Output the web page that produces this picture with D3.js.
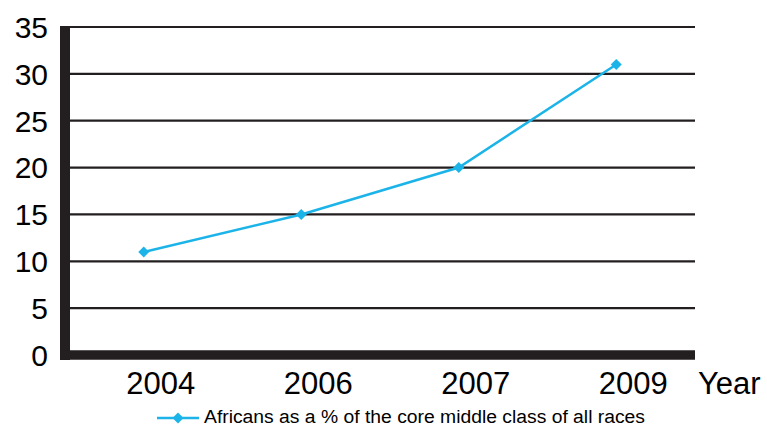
<!DOCTYPE html>
<html>
<head>
<meta charset="utf-8" />
<title>Africans as a % of the core middle class</title>
<script src="https://cdn.jsdelivr.net/npm/d3@7/dist/d3.min.js"></script>
<style>
body { margin: 0; background: #fff; }
text { font-family: "Liberation Sans", Arial, sans-serif; fill: #000; }
</style>
</head>
<body>
<svg id="chart" width="767" height="426"></svg>
<script>
// data
const years = ["2004", "2006", "2007", "2009"];
const share = [11, 15, 20, 31];
const yTicks = [0, 5, 10, 15, 20, 25, 30, 35];
const seriesName = "Africans as a % of the core middle class of all races";
const xTitle = "Year";

const plotLeft = 65, plotRight = 695, plotTop = 27, plotBottom = 355;
const lineColor = "#1cb4e8";

let svg = d3.select("#chart");

let x = d3.scalePoint()
	.domain(years)
	.range([plotLeft, plotRight])
	.padding(0.5);

let y = d3.scaleLinear()
	.domain([0, 35])
	.range([plotBottom, plotTop]);

// horizontal grid
svg.append("g")
	.selectAll("line")
	.data(yTicks.filter(d => d > 0))
	.enter()
	.append("line")
		.attr("x1", plotLeft)
		.attr("x2", plotRight)
		.attr("y1", d => y(d))
		.attr("y2", d => y(d))
		.attr("stroke", "#231f20")
		.attr("stroke-width", 2.2);

// thick axes
svg.append("line")
	.attr("x1", plotLeft).attr("x2", plotLeft)
	.attr("y1", plotTop - 1).attr("y2", plotBottom + 5)
	.attr("stroke", "#231f20")
	.attr("stroke-width", 10);
svg.append("line")
	.attr("x1", plotLeft - 5).attr("x2", plotRight)
	.attr("y1", plotBottom).attr("y2", plotBottom)
	.attr("stroke", "#231f20")
	.attr("stroke-width", 9.5);

// y labels
svg.append("g")
	.selectAll("text")
	.data(yTicks)
	.enter()
	.append("text")
		.attr("x", 48)
		.attr("y", d => y(d))
		.attr("dy", "0.36em")
		.attr("text-anchor", "end")
		.style("font-size", "30px")
		.text(d => d);

// x labels (sit a bit right of the points, as in the source)
svg.append("g")
	.selectAll("text")
	.data(years)
	.enter()
	.append("text")
		.attr("x", d => x(d) + 17)
		.attr("y", 394)
		.attr("text-anchor", "middle")
		.style("font-size", "31px")
		.text(d => d);

svg.append("text")
	.attr("x", 698)
	.attr("y", 394)
	.style("font-size", "31px")
	.text(xTitle);

// series
let line = d3.line()
	.x((d, i) => x(years[i]))
	.y(d => y(d));

svg.append("path")
	.datum(share)
	.attr("d", line)
	.attr("fill", "none")
	.attr("stroke", lineColor)
	.attr("stroke-width", 2.5);

let diamond = d3.symbol().type(d3.symbolSquare).size(60);

svg.append("g")
	.selectAll("path")
	.data(share)
	.enter()
	.append("path")
		.attr("d", diamond)
		.attr("transform", (d, i) => "translate(" + x(years[i]) + "," + y(d) + ") rotate(45)")
		.attr("fill", lineColor);

// legend
let lg = svg.append("g");
lg.append("line")
	.attr("x1", 157).attr("x2", 199)
	.attr("y1", 418).attr("y2", 418)
	.attr("stroke", lineColor)
	.attr("stroke-width", 2.5);
lg.append("path")
	.attr("d", diamond)
	.attr("transform", "translate(178,418) rotate(45)")
	.attr("fill", lineColor);
lg.append("text")
	.attr("x", 204)
	.attr("y", 423)
	.attr("textLength", 441)
	.attr("lengthAdjust", "spacingAndGlyphs")
	.style("font-size", "18px")
	.text(seriesName);
</script>
</body>
</html>
